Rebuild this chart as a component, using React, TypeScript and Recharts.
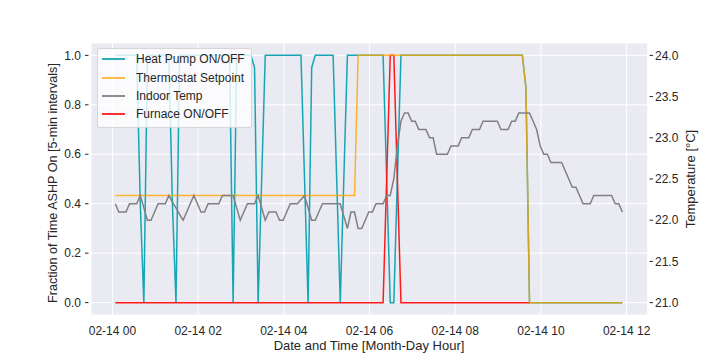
import React from 'react';
import { ComposedChart, Line, XAxis, YAxis, CartesianGrid, Legend } from 'recharts';

const TEAL = '#17a5b5';
const ORANGE = '#ffa500';
const GRAY = '#808080';
const RED = '#ff1a1a';
const INK = '#262626';
const FONT = '"Liberation Sans", Arial, sans-serif';

// x axis: minutes after 02-14 00:00
const HOUR_TICKS = [0, 120, 240, 360, 480, 600, 720];
const FRACTION_TICKS = [0, 0.2, 0.4, 0.6, 0.8, 1.0];
const TEMP_TICKS = [21, 21.5, 22, 22.5, 23, 23.5, 24];

// first sample at 00:04, one sample every 5 min
const START_MIN = 4;
const STEP_MIN = 5;

// one row per hour (12 samples)
const heatPump = [
  1, 1, 1, 1, 1, 1, 1, 0.4, 0, 1, 1, 1,
  1, 1, 1, 1, 0.4, 0, 1, 1, 1, 1, 1, 1,
  1, 1, 1, 1, 1, 1, 1, 1, 1, 0, 1, 1,
  1, 1, 1, 0.95, 0, 0.5, 1, 1, 1, 1, 1, 1,
  1, 1, 1, 1, 1, 0.5, 0, 0.95, 1, 1, 1, 1,
  1, 1, 0.5, 0, 0.5, 1, 1, 1, 1, 1, 1, 1,
  1, 1, 1, 1, 0.5, 0, 0, 0.5, 1, 1, 1, 1,
  1, 1, 1, 1, 1, 1, 1, 1, 1, 1, 1, 1,
  1, 1, 1, 1, 1, 1, 1, 1, 1, 1, 1, 1,
  1, 1, 1, 1, 1, 1, 1, 0.87, 0, 0, 0, 0,
  0, 0, 0, 0, 0, 0, 0, 0, 0, 0, 0, 0,
  0, 0, 0, 0, 0, 0, 0, 0, 0, 0, 0,
];

const setpoint = [
  22.3, 22.3, 22.3, 22.3, 22.3, 22.3, 22.3, 22.3, 22.3, 22.3, 22.3, 22.3,
  22.3, 22.3, 22.3, 22.3, 22.3, 22.3, 22.3, 22.3, 22.3, 22.3, 22.3, 22.3,
  22.3, 22.3, 22.3, 22.3, 22.3, 22.3, 22.3, 22.3, 22.3, 22.3, 22.3, 22.3,
  22.3, 22.3, 22.3, 22.3, 22.3, 22.3, 22.3, 22.3, 22.3, 22.3, 22.3, 22.3,
  22.3, 22.3, 22.3, 22.3, 22.3, 22.3, 22.3, 22.3, 22.3, 22.3, 22.3, 22.3,
  22.3, 22.3, 22.3, 22.3, 22.3, 22.3, 22.3, 22.3, 24, 24, 24, 24,
  24, 24, 24, 24, 24, 24, 24, 24, 24, 24, 24, 24,
  24, 24, 24, 24, 24, 24, 24, 24, 24, 24, 24, 24,
  24, 24, 24, 24, 24, 24, 24, 24, 24, 24, 24, 24,
  24, 24, 24, 24, 24, 24, 24, 23.6, 21, 21, 21, 21,
  21, 21, 21, 21, 21, 21, 21, 21, 21, 21, 21, 21,
  21, 21, 21, 21, 21, 21, 21, 21, 21, 21, 21,
];

const indoorTemp = [
  22.2, 22.1, 22.1, 22.1, 22.2, 22.2, 22.2, 22.3, 22.15, 22.0, 22.0, 22.1,
  22.2, 22.2, 22.2, 22.3, 22.22, 22.15, 22.07, 22.0, 22.1, 22.2, 22.3, 22.2,
  22.1, 22.1, 22.2, 22.2, 22.2, 22.2, 22.3, 22.3, 22.3, 22.3, 22.15, 22.0,
  22.1, 22.2, 22.2, 22.2, 22.3, 22.15, 22.0, 22.1, 22.1, 22.1, 22.0, 22.0,
  22.1, 22.2, 22.2, 22.2, 22.25, 22.3, 22.15, 22.0, 22.0, 22.1, 22.2, 22.2,
  22.2, 22.2, 22.2, 22.2, 22.05, 21.9, 22.1, 22.1, 21.9, 21.9, 22.0, 22.1,
  22.1, 22.2, 22.2, 22.2, 22.3, 22.3, 22.5, 22.9, 23.2, 23.3, 23.3, 23.2,
  23.2, 23.1, 23.1, 23.1, 23.0, 23.0, 22.8, 22.8, 22.8, 22.8, 22.9, 22.9,
  22.9, 23.0, 23.0, 23.0, 23.1, 23.1, 23.1, 23.2, 23.2, 23.2, 23.2, 23.2,
  23.1, 23.1, 23.1, 23.2, 23.2, 23.3, 23.3, 23.3, 23.3, 23.2, 23.1, 22.9,
  22.8, 22.8, 22.7, 22.7, 22.7, 22.7, 22.6, 22.5, 22.4, 22.4, 22.3, 22.2,
  22.2, 22.2, 22.3, 22.3, 22.3, 22.3, 22.3, 22.3, 22.2, 22.2, 22.1,
];

// furnace log stops at 09:44
const furnace = [
  0, 0, 0, 0, 0, 0, 0, 0, 0, 0, 0, 0,
  0, 0, 0, 0, 0, 0, 0, 0, 0, 0, 0, 0,
  0, 0, 0, 0, 0, 0, 0, 0, 0, 0, 0, 0,
  0, 0, 0, 0, 0, 0, 0, 0, 0, 0, 0, 0,
  0, 0, 0, 0, 0, 0, 0, 0, 0, 0, 0, 0,
  0, 0, 0, 0, 0, 0, 0, 0, 0, 0, 0, 0,
  0, 0, 0, 0, 0.5, 1, 1, 0.5, 0, 0, 0, 0,
  0, 0, 0, 0, 0, 0, 0, 0, 0, 0, 0, 0,
  0, 0, 0, 0, 0, 0, 0, 0, 0, 0, 0, 0,
  0, 0, 0, 0, 0, 0, 0, 0, 0,
];

const data = heatPump.map((hp, i) => ({
  t: START_MIN + i * STEP_MIN,
  hp,
  sp: setpoint[i],
  temp: indoorTemp[i],
  furnace: i < furnace.length ? furnace[i] : null,
}));

const SERIES = [
  { name: 'Heat Pump ON/OFF', color: TEAL, opacity: 1 },
  { name: 'Thermostat Setpoint', color: ORANGE, opacity: 0.8 },
  { name: 'Indoor Temp', color: GRAY, opacity: 1 },
  { name: 'Furnace ON/OFF', color: RED, opacity: 1 },
];

const hourLabel = (m: number) => `02-14 ${String(m / 60).padStart(2, '0')}`;

const XTick = ({ x, payload }: any) => (
  <text x={x} y={335} textAnchor="middle" fill={INK} fontSize={12} fontFamily={FONT}>
    {hourLabel(payload.value)}
  </text>
);

const LeftTick = ({ y, payload }: any) => (
  <g>
    <line x1={85} x2={88.5} y1={y} y2={y} stroke={INK} strokeWidth={1} />
    <text x={81} y={y} dy="0.35em" textAnchor="end" fill={INK} fontSize={12} fontFamily={FONT}>
      {payload.value.toFixed(1)}
    </text>
  </g>
);

const RightTick = ({ y, payload }: any) => (
  <g>
    <line x1={649.5} x2={653} y1={y} y2={y} stroke={INK} strokeWidth={1} />
    <text x={655} y={y} dy="0.35em" textAnchor="start" fill={INK} fontSize={12} fontFamily={FONT}>
      {payload.value.toFixed(1)}
    </text>
  </g>
);

const LegendBox = () => (
  <div
    style={{
      background: 'rgba(255,255,255,0.8)',
      border: '1px solid rgba(204,204,204,0.8)',
      borderRadius: 3,
      padding: '1px 6px 3px 4px',
      fontFamily: FONT,
      fontSize: 12,
      color: INK,
    }}
  >
    {SERIES.map(s => (
      <div key={s.name} style={{ display: 'flex', alignItems: 'center', height: 18.4 }}>
        <svg width={23} height={6} style={{ marginRight: 11, display: 'block' }}>
          <line x1={0} x2={23} y1={3} y2={3} stroke={s.color} strokeOpacity={s.opacity} strokeWidth={1.8} />
        </svg>
        <span style={{ whiteSpace: 'nowrap' }}>{s.name}</span>
      </div>
    ))}
  </div>
);

export default function App() {
  return (
    <div style={{ position: 'absolute', left: 0, top: 0, width: 720, height: 360, background: '#fff' }}>
      <ComposedChart width={720} height={360} data={data} margin={{ top: 43, right: 0, bottom: 0, left: 0 }}>
        <CartesianGrid fill="#eaeaf2" stroke="#fff" strokeWidth={1} yAxisId="left" />
        <XAxis
          dataKey="t"
          type="number"
          domain={[-30, 749.5]}
          ticks={HOUR_TICKS}
          allowDataOverflow
          height={45}
          axisLine={false}
          tickLine={false}
          tick={<XTick />}
          label={{
            content: () => (
              <text x={369} y={350} textAnchor="middle" fill={INK} fontSize={13} fontFamily={FONT}>
                Date and Time [Month-Day Hour]
              </text>
            ),
          }}
        />
        <YAxis
          yAxisId="left"
          type="number"
          domain={[-0.05, 1.05]}
          ticks={FRACTION_TICKS}
          allowDataOverflow
          width={91}
          axisLine={false}
          tickLine={false}
          tick={<LeftTick />}
          label={{
            content: () => (
              <text
                x={57}
                y={183}
                transform="rotate(-90, 57, 183)"
                textAnchor="middle"
                fill={INK}
                fontSize={12.6}
                fontFamily={FONT}
              >
                Fraction of Time ASHP On [5-min intervals]
              </text>
            ),
          }}
        />
        <YAxis
          yAxisId="right"
          orientation="right"
          type="number"
          domain={[20.85, 24.15]}
          ticks={TEMP_TICKS}
          allowDataOverflow
          width={72.3}
          axisLine={false}
          tickLine={false}
          tick={<RightTick />}
          label={{
            content: () => (
              <text
                x={695}
                y={179}
                transform="rotate(-90, 695, 179)"
                textAnchor="middle"
                fill={INK}
                fontSize={13}
                fontFamily={FONT}
              >
                Temperature [°C]
              </text>
            ),
          }}
        />
        <Line yAxisId="left" dataKey="hp" stroke={TEAL} strokeWidth={1.5} dot={false} isAnimationActive={false} />
        <Line yAxisId="left" dataKey="furnace" stroke={RED} strokeWidth={1.5} dot={false} isAnimationActive={false} />
        <Line
          yAxisId="right"
          dataKey="sp"
          stroke={ORANGE}
          strokeOpacity={0.8}
          strokeWidth={1.5}
          dot={false}
          isAnimationActive={false}
        />
        <Line yAxisId="right" dataKey="temp" stroke={GRAY} strokeWidth={1.5} dot={false} isAnimationActive={false} />
        <Legend
          layout="vertical"
          align="center"
          verticalAlign="middle"
          wrapperStyle={{ left: 97, top: 48, width: 'auto', height: 'auto' }}
          content={<LegendBox />}
        />
      </ComposedChart>
    </div>
  );
}
